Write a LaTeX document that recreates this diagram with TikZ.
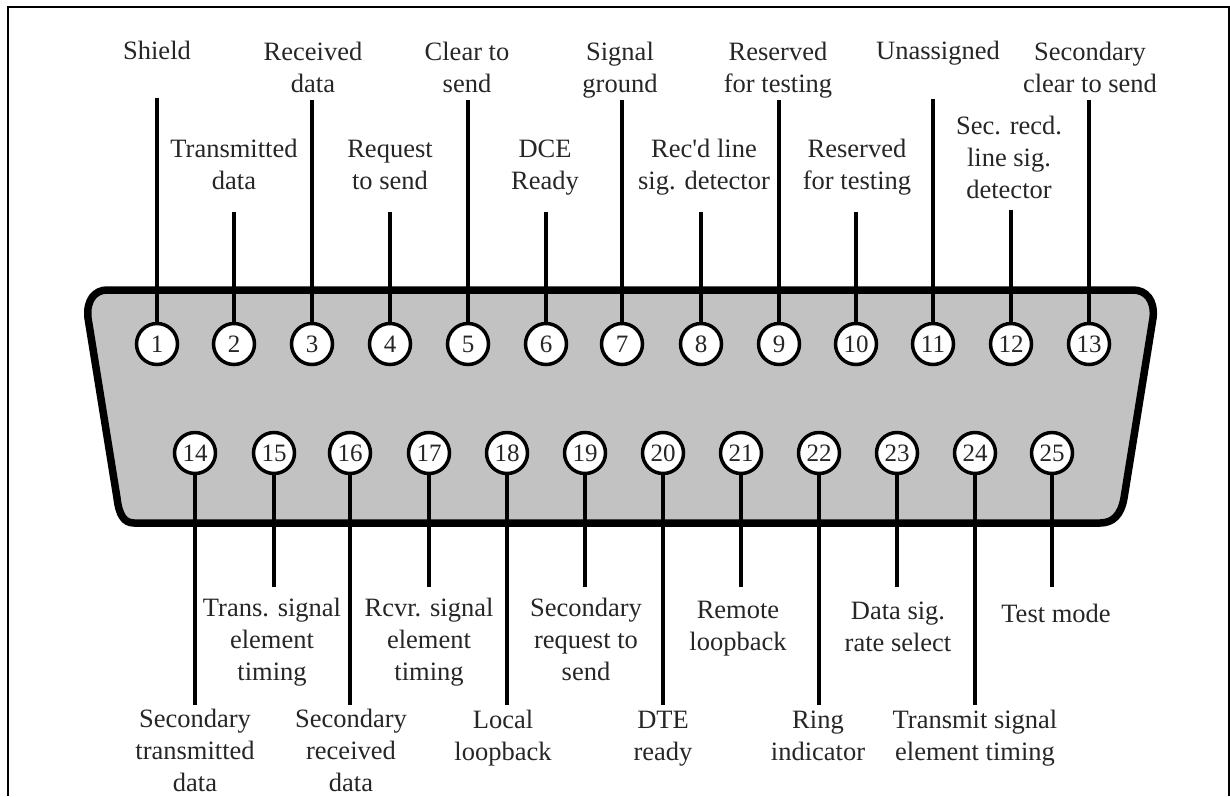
\documentclass[tikz,border=0pt]{standalone}
\usepackage{fontspec}
\setmainfont{Liberation Serif}
\newfontfamily\rawserif[Ligatures=ResetAll]{Liberation Serif}
\begin{document}
\begin{tikzpicture}[x=1pt,y=-1pt,
  framerule/.style={draw=black,line width=2pt},
  shell/.style={draw=black,fill=black!24,line width=7.5pt,line join=round},
  lead/.style={draw=black,line width=3.2pt},
  pin/.style={circle,draw=black,fill=white,line width=3.5pt,minimum size=41pt,inner sep=0pt,font=\fontsize{25}{25}\selectfont,text=black!85},
  lab/.style={anchor=base,align=center,inner sep=0pt,text=black!85,font=\fontsize{26.5}{32}\selectfont}]
\useasboundingbox (0,0) rectangle (1230,796);
\fill[white] (0,0) rectangle (1230,796);
\draw[framerule] (8,796) -- (8,7) -- (1229,7) -- (1229,796);
\draw[shell] (107,290) -- (1133,290) .. controls (1146,290) and (1155,300) .. (1153,318)
  -- (1124,498) .. controls (1121,515) and (1113,523) .. (1100,523)
  -- (134,523) .. controls (124,523) and (119,515) .. (117,498)
  -- (88,318) .. controls (86,300) and (95,290) .. (107,290) -- cycle;
% free ends of the leads
\foreach \n/\x/\y in {1/157/98,2/234/212,3/312/100,4/390/212,5/468/100,6/546/212,7/622/100,8/701/212,9/779/100,10/856/212,11/933/99,12/1011/210,13/1089/100,
  14/195/705,15/274/587,16/350/705,17/429/587,18/507/705,19/585/587,20/663/705,21/741/587,22/819/705,23/897/587,24/975/705,25/1052/587}
  {\coordinate (e\n) at (\x,\y);}
% pins
\foreach \n/\x in {1/157,2/234,3/312,4/390,5/468,6/546,7/622,8/701,9/779,10/856,11/933,12/1011,13/1089}
  {\node[pin] (p\n) at (\x,344) {\n};}
\foreach \n/\x in {14/195,15/274,16/350,17/429,18/507,19/585,20/663,21/741,22/819,23/897,24/975,25/1052}
  {\node[pin] (p\n) at (\x,453) {\n};}
% leads
\foreach \n in {1,...,13} {\draw[lead] (e\n) -- (p\n.north);}
\foreach \n in {14,...,25} {\draw[lead] (e\n) -- (p\n.south);}
% labels (placed by the baseline of their last line)
\node[lab] (l1) at (157,59) {Shield};
\node[lab] (l2) at (234,189) {Transmitted\\data};
\node[lab] (l3) at (313,92) {Received\\data};
\node[lab] (l4) at (390,189) {Request\\to send};
\node[lab] (l5) at (467,92) {Clear to\\send};
\node[lab] (l6) at (545,189) {DCE\\Ready};
\node[lab] (l7) at (620,92) {Signal\\ground};
\node[lab] (l8) at (704,189) {Rec{\rawserif\symbol{39}}d line\\sig. detector};
\node[lab] (l9) at (778,92) {Reserved\\for testing};
\node[lab] (l10) at (857,189) {Reserved\\for testing};
\node[lab] (l11) at (938,59) {Unassigned};
\node[lab] (l12) at (1009,198) {Sec. recd.\\line sig.\\detector};
\node[lab] (l13) at (1090,92) {Secondary\\clear to send};
\node[lab] (l14) at (195,791) {Secondary\\transmitted\\data};
\node[lab] (l15) at (272,680) {Trans. signal\\element\\timing};
\node[lab] (l16) at (351,791) {Secondary\\received\\data};
\node[lab] (l17) at (429,680) {Rcvr. signal\\element\\timing};
\node[lab] (l18) at (503,760) {Local\\loopback};
\node[lab] (l19) at (586,680) {Secondary\\request to\\send};
\node[lab] (l20) at (663,760) {DTE\\ready};
\node[lab] (l21) at (738,650) {Remote\\loopback};
\node[lab] (l22) at (818,760) {Ring\\indicator};
\node[lab] (l23) at (898,651) {Data sig.\\rate select};
\node[lab] (l24) at (975,760) {Transmit signal\\element timing};
\node[lab] (l25) at (1056,622) {Test mode};
\end{tikzpicture}
\end{document}
